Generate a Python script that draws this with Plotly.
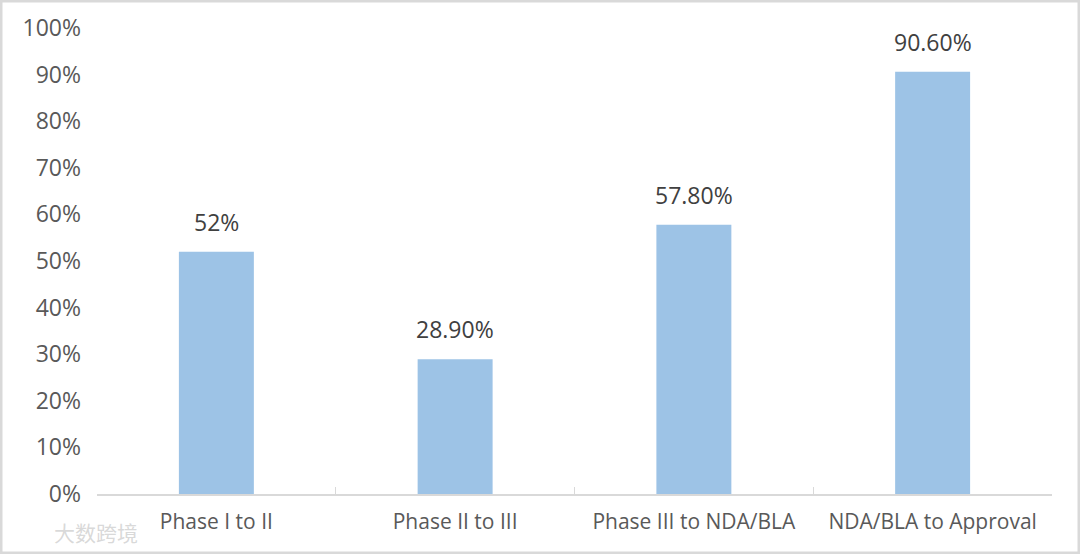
import plotly.graph_objects as go

categories = ["Phase I to II", "Phase II to III", "Phase III to NDA/BLA", "NDA/BLA to Approval"]
values = [0.52, 0.289, 0.578, 0.906]
labels = ["52%", "28.90%", "57.80%", "90.60%"]
tick_vals = [i / 10 for i in range(11)]
tick_text = [f"{i * 10}%" for i in range(11)]

W, H = 1080, 554
ml, mr, mt, mb = 97, 28, 28, 60
pw, ph = W - ml - mr, H - mt - mb

font_family = "Open Sans, Noto Sans, sans-serif"
txt_color = "#595959"

fig = go.Figure()
fig.add_trace(go.Bar(
    x=categories, y=values,
    marker=dict(color="#9DC3E6", line=dict(width=0)),
    cliponaxis=False, hoverinfo="skip",
))

for c, v, t in zip(categories, values, labels):
    fig.add_annotation(x=c, y=v, text=t, showarrow=False, yanchor="bottom",
                       yshift=12, font=dict(size=23, color="#404040", family=font_family))

fig.update_layout(
    width=W, height=H,
    margin=dict(l=ml, r=mr, t=mt, b=mb, pad=0),
    paper_bgcolor="white", plot_bgcolor="white",
    bargap=0.686, showlegend=False,
    font=dict(family=font_family, color=txt_color, size=20),
    xaxis=dict(
        showline=True, linecolor="#d9d9d9", linewidth=1.5,
        ticks="inside", tickson="boundaries", ticklen=7, tickcolor="#d9d9d9",
        tickfont=dict(size=21, color=txt_color), showgrid=False,
        ticklabelstandoff=8,
    ),
    yaxis=dict(
        range=[0, 1], tickvals=tick_vals, ticktext=tick_text,
        showgrid=False, zeroline=False, showline=False,
        tickfont=dict(size=23, color=txt_color), ticklabelstandoff=15,
    ),
)

# outer light-gray frame
fig.add_shape(type="rect", xref="paper", yref="paper",
              x0=-(ml - 1) / pw, x1=1 + (mr - 1) / pw,
              y0=-(mb - 1) / ph, y1=1 + (mt - 1) / ph,
              line=dict(color="#d9d9d9", width=3), layer="below")

# watermark
fig.add_annotation(text="大数跨境", xref="paper", yref="paper",
                   x=-(ml - 52) / pw, y=-(mb - 22) / ph, xanchor="left", yanchor="middle",
                   showarrow=False,
                   font=dict(size=21, color="rgba(200,200,200,0.7)",
                             family="Noto Sans CJK SC"))

fig.write_html("out.html", config={"displayModeBar": False},
               post_script="document.body.style.margin='0';")
